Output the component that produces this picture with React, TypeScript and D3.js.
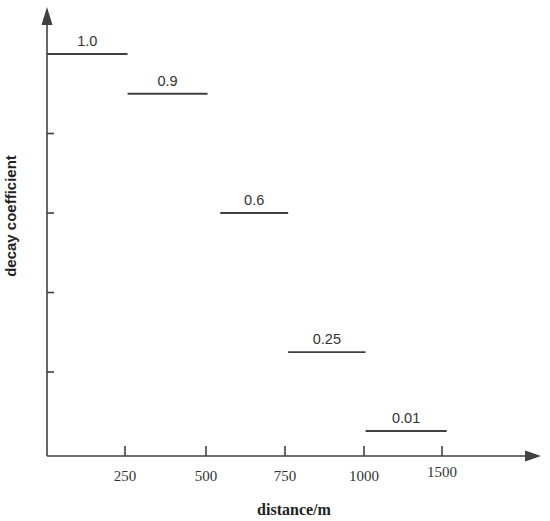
import React from 'react';
import * as d3 from 'd3';

const xTickValues = [250, 500, 750, 1000, 1500];
const yTickValues = [0.2, 0.4, 0.6, 0.8, 1.0];
const segFrom = [0, 258, 545, 760, 1010];
const segTo = [258, 505, 760, 1010, 1530];
const segValue = [1.0, 0.9, 0.6, 0.25, 0.01];
const segLabel = ['1.0', '0.9', '0.6', '0.25', '0.01'];

const W = 550;
const H = 521;
const axisColor = '#404040';

export default function App() {
  // schematic axes: equally spaced distance ticks, stretched low end for 0.01
  const x = d3.scaleLinear().domain([0, 250, 500, 750, 1000, 1500]).range([47, 125, 206, 285, 364, 442]);
  const y = d3.scaleLinear().domain([0, 0.01, 0.2, 1]).range([456, 431, 372, 54]);
  const x0 = x(0);
  const y0 = y(0);

  return (
    <svg width={W} height={H} style={{ position: 'absolute', left: 0, top: 0, background: '#fff' }}>
      {/* axes */}
      <line x1={x0} y1={y0} x2={530} y2={y0} stroke={axisColor} strokeWidth={1.6} />
      <path d={`M541,${y0} L525,${y0 - 5.5} L525,${y0 + 5.5} Z`} fill={axisColor} />
      <line x1={x0} y1={y0} x2={x0} y2={20} stroke={axisColor} strokeWidth={1.6} />
      <path d={`M${x0},7 L${x0 - 5.5},25 L${x0 + 5.5},25 Z`} fill={axisColor} />

      {xTickValues.map((v) => (
        <g key={v}>
          <line x1={x(v)} y1={y0} x2={x(v)} y2={y0 - 10} stroke={axisColor} strokeWidth={1.6} />
          <text x={x(v)} y={v === 1500 ? y0 + 21 : y0 + 25} textAnchor="middle" fontFamily="Liberation Serif" fontSize={15} fill="#333">
            {v}
          </text>
        </g>
      ))}
      {yTickValues.map((v) => (
        <line key={v} x1={x0} y1={y(v)} x2={x0 + 7} y2={y(v)} stroke={axisColor} strokeWidth={1.6} />
      ))}

      {/* step segments */}
      {segValue.map((v, i) => (
        <g key={i}>
          <line x1={x(segFrom[i])} y1={y(v)} x2={x(segTo[i])} y2={y(v)} stroke={axisColor} strokeWidth={1.8} />
          <text
            x={(x(segFrom[i]) + x(segTo[i])) / 2}
            y={y(v) - 8}
            textAnchor="middle"
            fontFamily="Liberation Sans"
            fontSize={14.5}
            fill="#333"
          >
            {segLabel[i]}
          </text>
        </g>
      ))}

      <text x={294} y={515} textAnchor="middle" fontFamily="Liberation Serif" fontWeight="bold" fontSize={16} fill="#222">
        distance/m
      </text>
      <text
        transform="translate(16,216) rotate(-90)"
        textAnchor="middle"
        fontFamily="Liberation Sans"
        fontWeight="bold"
        fontSize={15}
        fill="#222"
      >
        decay coefficient
      </text>
    </svg>
  );
}
